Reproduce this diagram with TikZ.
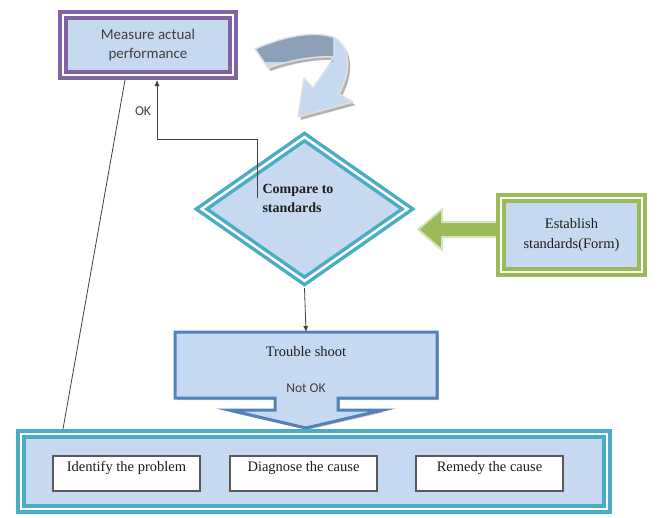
\documentclass[tikz,border=0pt]{standalone}
\usepackage{fontspec}
\setmainfont{Liberation Serif}
\newfontfamily\calib{Carlito}
\usetikzlibrary{shapes.geometric,arrows.meta,calc}
\definecolor{lb}{RGB}{198,217,241}
\definecolor{purp}{RGB}{128,100,162}
\definecolor{tealc}{RGB}{75,172,198}
\definecolor{grn}{RGB}{155,187,89}
\definecolor{grnl}{RGB}{215,228,189}
\definecolor{bluec}{RGB}{79,129,189}
\definecolor{slate}{RGB}{141,160,184}
\definecolor{tan}{RGB}{232,196,160}
\definecolor{txt}{RGB}{30,30,30}
\def\curvedarrow{(255,49) .. controls (280,38) and (310,30) .. (333,37) .. controls (348,44) and (354,66) .. (339,94) -- (353,102) -- (298,117) -- (304,78) -- (313,88) .. controls (320,78) and (330,65) .. (333,57) .. controls (315,56) and (290,60) .. (268,68) -- cycle}
\begin{document}
\begin{tikzpicture}[x=1pt,y=-1pt,
  dbox/.style={rectangle, fill=lb, line width=4pt, double=white, double distance=2pt, inner sep=0pt, outer sep=5pt},
  sbox/.style={rectangle, draw=black!65, fill=white, line width=1.1pt, minimum width=147pt, inner sep=4.5pt, text height=11pt, text depth=15pt, font=\fontsize{14.5}{17}\selectfont, text=txt},
  serif/.style={font=\fontsize{14.5}{20}\selectfont, text=txt},
  sans/.style={font=\calib\fontsize{13.5}{16}\selectfont, text=black!75},
  conn/.style={draw=black!75, line width=0.8pt},
  arr/.style={-{Latex[length=6pt,width=5pt]}}
]
\useasboundingbox (0,0) rectangle (664,517);

% curved arrow
\begin{scope}[shift={(2.5,3)}]
\fill[black!30] \curvedarrow;
\end{scope}
\fill[lb] \curvedarrow;
\begin{scope}
\clip (240,20) rectangle (333,61);
\fill[slate] \curvedarrow;
\end{scope}
\draw[white!88!black, line width=1.5pt, line join=round] \curvedarrow;

% measure box
\node[dbox, draw=purp, minimum width=170pt, minimum height=60pt, align=center,
      font=\calib\fontsize{15}{19}\selectfont, text=black!75] (measure) at (148,45) {Measure actual\\performance};

% diamond
\node[diamond, draw=tealc, fill=lb, line width=3.5pt, double=white, double distance=2.5pt,
      minimum width=210pt, minimum height=148pt, inner sep=0pt, outer sep=5pt] (cmp) at (304.5,209) {};
\node[anchor=west, align=left, font=\bfseries\fontsize{14}{19}\selectfont, text=txt] (cmptext) at (259,198) {Compare to\\standards};

% green block arrow
\draw[grnl, line width=2pt, fill=grn, line join=round] (498,222) -- (442,222) -- (442,209) -- (418,229.5) -- (442,250) -- (442,237) -- (498,237) -- cycle;

% establish box
\node[dbox, draw=grn, minimum width=141pt, minimum height=74pt, align=center, serif] (est) at (571.5,235) {Establish\\standards(Form)};

% trouble shoot callout
\fill[tan] (177,334) -- (439,334) -- (439,400) -- (340,400) -- (340,412) -- (385,412) -- (307,430) -- (230,412) -- (277,412) -- (277,400) -- (177,400) -- cycle;
\draw[bluec, fill=lb, line width=3pt, line join=miter] (175,332) -- (437,332) -- (437,398) -- (338,398) -- (338,410) -- (383,410) -- (306,428) -- (229,410) -- (275,410) -- (275,398) -- (175,398) -- cycle;
\node[minimum width=262pt, minimum height=66pt, inner sep=0pt, outer sep=0pt] (ts) at (306,365) {};
\node[serif] (tstext) at (306,352) {Trouble shoot};
\node[sans] (notok) at (306,388) {Not OK};

% bottom box
\node[dbox, draw=tealc, minimum width=586pt, minimum height=75pt] (bot) at (314,471.5) {};
\node[sbox] (idp) at (126.5,473.5) {Identify the problem};
\node[sbox] (dgc) at (303.5,473.5) {Diagnose the cause};
\node[sbox] (rmc) at (489.5,473.5) {Remedy the cause};

% connectors
\coordinate (okstart) at (257,198);
\coordinate (okbend) at (157,139);
\draw[conn, arr] (okstart) |- (okbend) -- (okbend |- measure.south);
\node[sans] (oklbl) at (143,111) {OK};
\draw[conn] ($(bot.north west)+(47,0)$) -- ($(measure.south)+(-23,0)$);
\draw[conn, arr] (cmp.south) -- (ts.north);
\end{tikzpicture}
\end{document}
